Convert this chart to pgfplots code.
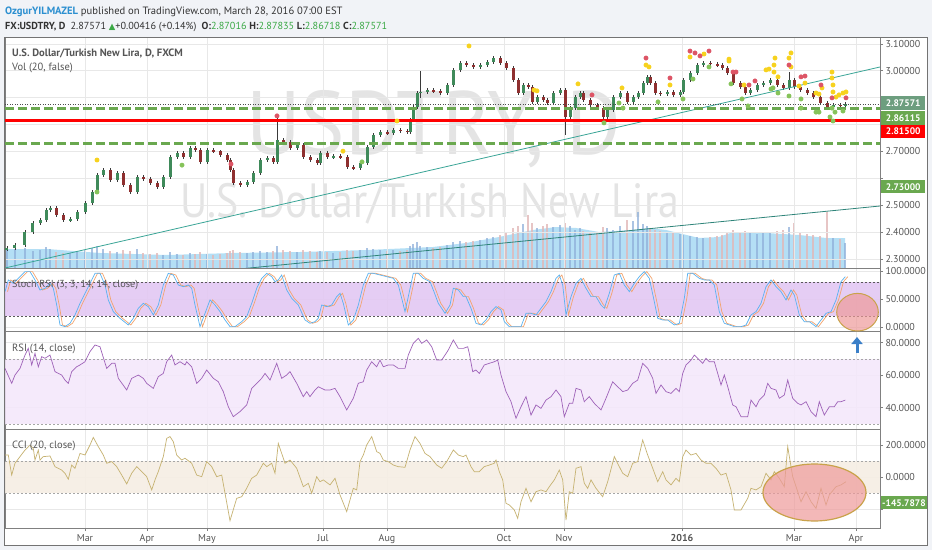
\documentclass[border=0pt]{standalone}
\usepackage{fontspec}
\setmainfont{PT Sans}
\newfontfamily\dejavu{DejaVu Sans}
\usepackage{pgfplots}
\pgfplotsset{compat=1.18}
\usepackage{pgfplotstable}
\usetikzlibrary{arrows.meta}

\definecolor{bgout}{HTML}{F1F3F7}
\definecolor{upc}{HTML}{3F8A5A}
\definecolor{dnc}{HTML}{8E2F2F}
\definecolor{wick}{HTML}{3A3A3A}
\definecolor{lvlgreen}{HTML}{6AA84F}
\definecolor{lvlred}{HTML}{FF0000}
\definecolor{curlbl}{HTML}{6D9E7F}
\definecolor{trend}{HTML}{3AA597}
\definecolor{volma}{HTML}{9CD5F2}
\definecolor{volup}{HTML}{8FB0DA}
\definecolor{voldn}{HTML}{E2B7B7}
\definecolor{dy}{HTML}{F7D21E}
\definecolor{dr}{HTML}{DD5566}
\definecolor{dg}{HTML}{86C35A}
\definecolor{stband}{HTML}{E3C8F3}
\definecolor{rsiband}{HTML}{F4E7FB}
\definecolor{cciband}{HTML}{F6EEE4}
\definecolor{kblue}{HTML}{5AB2F0}
\definecolor{dorange}{HTML}{F3A46E}
\definecolor{rsil}{HTML}{9E62B8}
\definecolor{ccil}{HTML}{C6B271}
\definecolor{lbl}{HTML}{555555}
\definecolor{gridc}{HTML}{E8E8E8}
\definecolor{wm}{HTML}{E4E4E4}
\definecolor{hdrblue}{HTML}{2B8FD0}
\definecolor{hdrtxt}{HTML}{333333}
\definecolor{hdrgreen}{HTML}{3AA845}
\definecolor{pinkfill}{HTML}{EE9A9A}
\definecolor{ellb}{HTML}{C9A24A}
\definecolor{arrblue}{HTML}{3A7FC8}

\pgfplotstableread{
x o c v
7 2.335 2.341 18
15 2.341 2.352 19
25 2.352 2.400 20
33 2.400 2.434 17
40 2.434 2.445 18
46 2.445 2.482 21
50 2.482 2.490 19
56 2.490 2.464 16
63 2.464 2.445 15
70 2.445 2.448 15
77 2.448 2.475 16
85 2.475 2.508 18
92 2.508 2.549 20
97 2.549 2.612 22
103 2.612 2.631 19
110 2.631 2.594 17
117 2.594 2.620 16
123 2.620 2.575 18
130 2.575 2.549 17
137 2.549 2.605 19
143 2.605 2.598 15
150 2.598 2.583 14
157 2.583 2.568 15
163 2.568 2.605 13
170 2.605 2.679 16
177 2.679 2.694 14
183 2.694 2.679 13
190 2.679 2.713 15
195 2.713 2.705 14
200 2.705 2.661 16
207 2.661 2.705 14
213 2.705 2.700 13
220 2.700 2.687 14
227 2.687 2.668 15
230 2.668 2.631 17
233 2.631 2.583 18
240 2.583 2.575 16
247 2.575 2.586 15
253 2.586 2.620 16
260 2.620 2.668 17
267 2.668 2.675 16
273 2.675 2.661 17
277 2.661 2.742 22
283 2.742 2.735 18
290 2.735 2.713 17
297 2.713 2.724 16
303 2.724 2.679 18
310 2.679 2.668 17
317 2.668 2.657 16
320 2.657 2.694 17
327 2.694 2.679 16
333 2.679 2.683 15
340 2.683 2.679 16
347 2.679 2.642 18
353 2.642 2.638 17
360 2.638 2.657 18
367 2.657 2.716 20
373 2.716 2.761 19
380 2.761 2.772 18
387 2.772 2.768 17
393 2.768 2.780 18
400 2.780 2.776 17
407 2.776 2.772 18
410 2.772 2.817 22
413 2.817 2.865 24
417 2.865 2.917 26
420 2.917 2.921 22
427 2.921 2.928 21
433 2.928 2.924 20
440 2.924 2.917 21
447 2.917 2.947 23
453 2.947 3.003 26
460 3.003 3.029 27
466 3.029 3.022 26
473 3.022 3.014 27
480 3.014 3.021 28
487 3.021 3.032 30
493 3.032 3.047 31
500 3.047 3.029 33
506 3.029 3.010 35
513 3.010 2.965 40
518 2.965 2.917 42
523 2.917 2.947 44
528 2.947 2.939 53
532 2.939 2.884 45
537 2.884 2.902 40
543 2.902 2.891 42
547 2.891 2.880 44
553 2.880 2.917 41
560 2.917 2.928 43
565 2.928 2.828 45
570 2.828 2.861 42
575 2.861 2.902 38
580 2.902 2.917 40
583 2.917 2.891 37
590 2.891 2.872 36
597 2.872 2.861 35
603 2.861 2.828 41
607 2.828 2.854 40
613 2.854 2.902 38
620 2.902 2.917 42
627 2.917 2.884 48
633 2.884 2.902 47
638 2.902 2.917 56
643 2.917 2.954 44
647 2.954 2.977 42
650 2.977 2.954 40
655 2.954 2.917 38
660 2.917 2.914 37
667 2.914 2.921 35
673 2.921 2.910 36
680 2.910 2.921 34
683 2.921 2.965 33
690 2.965 2.991 32
697 2.991 3.021 31
703 3.021 3.029 30
710 3.029 3.025 31
717 3.025 3.021 32
722 3.021 3.010 33
727 3.010 2.991 35
733 2.991 2.954 38
740 2.954 2.939 36
745 2.939 2.917 37
750 2.917 2.928 35
757 2.928 2.947 34
763 2.947 2.954 36
770 2.954 2.965 35
777 2.965 2.947 37
783 2.947 2.936 38
789 2.936 2.965 41
794 2.965 2.939 45
800 2.939 2.928 36
807 2.928 2.917 34
813 2.917 2.902 33
820 2.902 2.880 32
827 2.880 2.865 56
833 2.865 2.872 30
840 2.872 2.870 29
845 2.870 2.876 25
}\candles

\pgfplotstableread{
x lo hi
277 2.735 2.832
420 2.900 3.000
565 2.761 2.930
789 2.930 2.995
}\spikes

\pgfplotstableread{
x h
5 19
47 19
100 15
167 13
233 15
300 16
367 18
433 21
466 25
499 31
533 38
556 41
576 40
599 36
633 38
649 40
666 38
699 30
719 31
733 36
766 35
799 33
826 30
845 30
}\volma

\pgfplotstableread{
x y
97 2.668
343 2.701
397 2.813
469 3.092
704 3.062
690 3.051
729 3.043
775 3.047
791 3.066
789 3.047
646 3.021
649 3.014
534 2.928
537 2.925
578 2.951
622 2.936
670 2.947
729 3.036
744 2.947
766 3.003
769 3.006
774 3.021
774 2.995
778 2.977
791 3.014
799 2.943
805 2.954
816 2.917
819 2.913
832 2.995
832 2.973
833 2.947
833 2.921
836 2.902
839 2.910
843 2.917
846 2.921
822 2.936
}\dotsY

\pgfplotstableread{
x y
231 2.653
277 2.832
690 3.073
695 3.066
700 3.055
709 3.073
646 3.047
592 2.910
670 2.973
733 2.995
736 2.995
749 2.947
755 2.962
789 3.021
801 2.977
805 2.980
821 2.947
846 2.899
832 2.899
}\dotsR

\pgfplotstableread{
x y
97 2.549
182 2.649
362 2.661
658 2.884
683 2.895
693 2.969
709 3.014
731 2.951
742 2.895
748 2.869
771 2.932
773 2.936
778 2.917
789 2.906
801 2.895
801 2.861
816 2.846
819 2.846
604 2.806
623 2.861
619 2.880
832 2.861
833 2.813
843 2.850
830 2.828
835 2.846
}\dotsG

\pgfplotstableread{
x v
5 63.6
8.3 84.5
13.3 78.5
20 90.4
25 99.4
30 99.4
35 84.5
40 66.6
45 69.6
50 78.5
53.3 69.6
56.7 39.7
60 4.0
65 1.0
70 7.0
75 21.9
80 42.7
85 60.6
90 78.5
95 96.4
100 96.4
105 75.5
108.3 48.7
113.3 27.8
120 15.9
128.3 4.0
133.3 15.9
138.3 33.8
143.3 42.7
148.3 36.8
153.3 21.9
158.3 39.7
163.3 75.5
168.3 96.4
173.3 93.4
178.3 75.5
183.3 72.5
188.3 75.5
191.7 69.6
195 39.7
200 1.0
205 24.8
210 48.7
215 39.7
220 27.8
225 12.9
230 1.0
235 1.0
241.7 9.9
246.7 18.9
251.7 42.7
256.7 69.6
261.7 87.4
266.7 96.4
271.7 90.4
275 81.5
278.3 84.5
281.7 93.4
286.7 66.6
291.7 51.7
298.3 39.7
305 12.9
310 7.0
315 9.9
318.3 15.9
321.7 39.7
326.7 36.8
331.7 39.7
336.7 54.7
340 60.6
343.3 42.7
348.3 4.0
353.3 12.9
358.3 39.7
363.3 75.5
368.3 96.4
373.3 96.4
380 93.4
386.7 90.4
393.3 87.4
398.3 75.5
401.7 51.7
405 27.8
408.3 54.7
413.3 96.4
418.3 96.4
423.3 87.4
430 81.5
433.3 66.6
438.3 42.7
445 24.8
450 39.7
453.3 69.6
458.3 66.6
463.3 54.7
466 54.7
471 33.8
476 7.0
481 4.0
486 12.9
491 27.8
496 36.8
501 30.8
504.3 9.9
509.3 1.0
516 1.0
521 1.0
526 24.8
531 24.8
536 21.9
541 33.8
546 45.7
551 63.6
556 87.4
559.3 93.4
562.7 75.5
566 21.9
571 54.7
576 78.5
581 87.4
586 69.6
591 54.7
596 54.7
601 39.7
604.3 33.8
609.3 60.6
614.3 93.4
619.3 96.4
624.3 75.5
629.3 63.6
634.3 78.5
639.3 90.4
644.3 99.4
649.3 87.4
654.3 45.7
657.7 15.9
662.7 12.9
667.7 12.9
674.3 4.0
679.3 7.0
684.3 51.7
687.7 96.4
692.7 96.4
699.3 87.4
704.3 84.5
709.3 84.5
714.3 75.5
719.3 27.8
724.3 7.0
729.3 4.0
734.3 1.0
741 1.0
746 4.0
751 21.9
756 27.8
761 42.7
766 72.5
771 84.5
776 72.5
781 63.6
786 48.7
791 66.6
794.3 57.6
799.3 21.9
804.3 9.9
809.3 9.9
816 1.0
821 12.9
826 24.8
831 27.8
836 48.7
841 81.5
845.3 90.4
}\stoch

\pgfplotstableread{
x v
5 64.2
11.7 55.0
15 60.1
20 64.2
25 72.4
28.3 76.5
31.7 66.3
35 73.4
38.3 65.2
41.7 71.4
45 70.4
50 72.4
55 62.2
61.7 60.1
65 57.0
68.3 55.0
71.7 62.2
76.7 65.2
80 66.3
85 68.3
90 74.5
95 78.6
100 77.5
106.7 64.2
111.7 67.3
115 67.3
118.3 58.1
126.7 50.9
131.7 58.1
138.3 60.1
143.3 58.1
146.7 55.0
153.3 51.9
158.3 59.1
163.3 61.1
166.7 68.3
171.7 72.4
175 66.3
180 68.3
185 66.3
186.7 68.3
191.7 65.2
196.7 55.0
201.7 58.1
206.7 63.2
213.3 58.1
218.3 56.0
223.3 49.9
228.3 40.6
233.3 34.5
240 37.6
246.7 41.7
251.7 51.9
256.7 55.0
261.7 58.1
265 61.1
270 57.0
276.7 67.3
281.7 58.1
286.7 60.1
290 62.2
296.7 55.0
303.3 46.8
306.7 49.9
310 46.8
315 50.9
318.3 52.9
321.7 51.9
325 50.9
330 50.9
335 51.9
340 46.8
346.7 38.6
353.3 45.8
358.3 55.0
363.3 56.0
366.7 63.2
371.7 68.3
376.7 65.2
380 69.3
383.3 65.2
388.3 66.3
393.3 66.3
398.3 64.2
405 64.2
408.3 72.4
413.3 79.6
418.3 82.7
421.7 79.6
426.7 81.7
431.7 77.5
436.7 69.3
441.7 69.3
448.3 75.5
453.3 81.7
458.3 76.5
463.3 76.5
467.7 77.5
469.3 73.4
472.7 62.2
476 63.2
479.3 61.1
484.3 66.3
489.3 67.3
494.3 68.3
497.7 69.3
501 60.1
506 49.9
511 43.7
516 33.5
521 40.6
526 46.8
531 35.5
536 41.7
541 39.6
546 44.7
551 46.8
556 50.9
561 46.8
564.3 34.5
569.3 42.7
572.7 42.7
576 51.9
581 50.9
584.3 43.7
589.3 46.8
594.3 42.7
601 38.6
606 45.8
612.7 56.0
617.7 52.9
622.7 49.9
627.7 50.9
632.7 55.0
637.7 57.0
642.7 67.3
647.7 64.2
652.7 58.1
656 48.8
661 54.0
666 49.9
671 48.8
676 51.9
679.3 49.9
682.7 61.1
686 66.3
691 69.3
694.3 72.4
697.7 70.4
702.7 67.3
706 70.4
709.3 68.3
714.3 68.3
717.7 61.1
721 54.0
724.3 60.1
727.7 53.0
732.7 41.7
736 40.6
741 34.5
747.7 34.5
751 44.7
756 40.6
759.3 44.7
764.3 47.8
767.7 55.0
771 51.9
776 50.9
779.3 45.8
784.3 47.8
787.7 57.0
792.7 45.8
797.7 42.7
801 41.7
806 43.7
811 37.6
816 34.5
819.3 43.7
824.3 35.5
829.3 40.6
834.3 40.6
837.7 43.7
841 43.7
845.3 44.7
}\rsi

\pgfplotstableread{
x v
5 138
8.3 138
11.7 14
15 87
20 128
25 169
30 200
33.3 179
35 107
38.3 169
40 107
43.3 128
50 132
55 66
61.7 45
65 25
68.3 -12
71.7 76
75 56
80 148
85 138
90 200
93.3 247
98.3 190
103.3 138
106.7 87
111.7 97
116.7 66
121.7 14
126.7 -41
131.7 25
136.7 66
141.7 35
146.7 4
151.7 -78
155 -16
158.3 35
163.3 128
166.7 241
170 252
173.3 221
176.7 138
181.7 107
185 118
191.7 87
196.7 14
201.7 4
206.7 97
211.7 66
216.7 4
221.7 14
230 -268
236.7 -130
241.7 -120
246.7 -68
251.7 -6
256.7 14
263.3 87
266.7 66
271.7 87
275 25
278.3 210
285 87
290 107
296.7 56
303.3 -58
308.3 -37
311.7 -99
316.7 4
320 -27
323.3 -16
330 -47
335 -6
340 -109
346.7 -212
353.3 -68
356.7 -78
360 97
363.3 138
366.7 200
371.7 252
376.7 159
380 148
383.3 107
388.3 97
393.3 76
398.3 66
405 62
410 169
415 252
420 210
425 148
430 128
436.7 76
441.7 56
446.7 97
453.3 169
458.3 138
463.3 128
466 138
471 66
474.3 35
479.3 35
484.3 66
489.3 76
494.3 87
496 107
499.3 35
502.7 -16
506 -161
509.3 -171
514.3 -202
517.7 -254
521 -151
526 -68
531 -151
536 -89
541 -78
546 -89
549.3 -58
554.3 -16
559.3 45
562.7 -16
566 -264
569.3 -89
572.7 -99
576 56
581 66
584.3 -37
587.7 -68
591 -16
596 -68
602.7 -120
607.7 -27
614.3 128
619.3 66
622.7 25
627.7 4
632.7 87
637.7 97
642.7 231
647.7 138
652.7 56
657.7 -27
662.7 35
666 -16
671 -47
676 -6
679.3 -27
682.7 128
686 169
691 138
696 148
701 107
706 87
711 87
716 56
721 14
726 25
731 -78
734.3 -202
741 -202
747.7 -130
751 -68
756 -78
761 -58
766 25
771 -16
774.3 35
779.3 -6
784.3 -58
787.7 190
792.7 4
797.7 -89
801 -151
806 -89
811 -151
816 -192
821 -68
826 -171
829.3 -109
836 -58
841 -47
846 -27
}\cci

\pgfplotsset{
  pane/.style={
    scale only axis, width=875pt, xmin=5, xmax=880, anchor=south west,
    axis line style={draw=black!50, line width=0.9pt},
    xtick={85,147,207,323,387,504,564,682,794,856}, xticklabels={},
    grid=major, major grid style={draw=gridc, line width=0.6pt},
    ytick pos=right, yticklabel pos=right, tick align=outside,
    major tick length=3pt, tick style={draw=black!50, line width=0.5pt},
    xtick style={draw=none},
    yticklabel style={font=\fontsize{10}{11}\selectfont, text=lbl, xshift=-1pt},
    /pgf/number format/assume math mode=true,
  },
  cand/.style={draw=none, mark=none},
}

\begin{document}
\begin{tikzpicture}
\fill[bgout] (0pt,0pt) rectangle (932pt,550pt);
\useasboundingbox (0pt,0pt) rectangle (932pt,550pt);
\fill[white] (4.5pt,5pt) rectangle (927.5pt,513pt);

% watermark
\node[anchor=base west, inner sep=0pt, text=wm] at (246pt,395pt) {\scalebox{0.93}[1]{\fontsize{90}{90}\selectfont USDTRY, D}};
\node[anchor=base west, inner sep=0pt, text=wm] at (180pt,333pt) {\scalebox{0.87}[1]{\fontsize{48}{48}\selectfont U.S. Dollar/Turkish New Lira}};

% volume (hidden axis)
\begin{axis}[scale only axis, width=875pt, height=231pt, at={(5pt,282pt)}, anchor=south west,
  xmin=5, xmax=880, ymin=0, ymax=231, hide axis]
\addplot[draw=none, fill=volma, fill opacity=0.75] table[x=x, y=h] {\volma} \closedcycle;
\addplot[cand, error bars/.cd, y dir=both, y explicit, error mark=none,
  error bar style={line width=2.2pt, draw=volup, opacity=0.75}]
  table[x=x, y expr={\thisrow{v}/2}, y error expr={\thisrow{c}>\thisrow{o} ? \thisrow{v}/2 : 0}] {\candles};
\addplot[cand, error bars/.cd, y dir=both, y explicit, error mark=none,
  error bar style={line width=2.2pt, draw=voldn, opacity=0.8}]
  table[x=x, y expr={\thisrow{v}/2}, y error expr={\thisrow{c}<\thisrow{o} ? \thisrow{v}/2 : 0}] {\candles};
\end{axis}

% price pane
\begin{axis}[pane, height=231pt, at={(5pt,282pt)}, ymin=2.2665, ymax=3.1253,
  ytick={2.3,2.4,2.5,2.6,2.7,2.8,2.9,3.0,3.1},
  yticklabels={2.30000,2.40000,2.50000,,2.70000,,,3.00000,3.10000}]
% wicks
\addplot[cand, error bars/.cd, y dir=both, y explicit, error mark=none,
  error bar style={line width=0.7pt, draw=wick}]
  table[x=x, y expr={(\thisrow{o}+\thisrow{c})/2}, y error expr={abs(\thisrow{c}-\thisrow{o})/2+0.007}] {\candles};
\addplot[cand, error bars/.cd, y dir=both, y explicit, error mark=none,
  error bar style={line width=0.7pt, draw=wick}]
  table[x=x, y expr={(\thisrow{lo}+\thisrow{hi})/2}, y error expr={(\thisrow{hi}-\thisrow{lo})/2}] {\spikes};
% bodies
\addplot[cand, error bars/.cd, y dir=both, y explicit, error mark=none,
  error bar style={line width=3pt, draw=upc}]
  table[x=x, y expr={(\thisrow{o}+\thisrow{c})/2}, y error expr={\thisrow{c}>\thisrow{o} ? max(abs(\thisrow{c}-\thisrow{o})/2,0.0015) : 0}] {\candles};
\addplot[cand, error bars/.cd, y dir=both, y explicit, error mark=none,
  error bar style={line width=3pt, draw=dnc}]
  table[x=x, y expr={(\thisrow{o}+\thisrow{c})/2}, y error expr={\thisrow{c}<\thisrow{o} ? max(abs(\thisrow{c}-\thisrow{o})/2,0.0015) : 0}] {\candles};
% trend lines
\addplot[trend, line width=0.8pt] coordinates {(5,2.2665) (880,3.0138)};
\addplot[trend!80!black, line width=0.8pt] coordinates {(5,2.177) (880,2.497)};
% levels
\addplot[lvlgreen, line width=3pt, dash pattern=on 9pt off 4pt] coordinates {(5,2.86115) (880,2.86115)};
\addplot[lvlgreen, line width=3pt, dash pattern=on 9pt off 4pt] coordinates {(5,2.73) (880,2.73)};
\addplot[lvlred, line width=3.3pt] coordinates {(5,2.815) (880,2.815)};
\addplot[black!70, line width=0.5pt, dash pattern=on 1pt off 1.5pt] coordinates {(5,2.87571) (880,2.87571)};
% dots
\addplot[only marks, mark=*, mark size=2.2pt, color=dy] table[x=x,y=y] {\dotsY};
\addplot[only marks, mark=*, mark size=2.2pt, color=dr] table[x=x,y=y] {\dotsR};
\addplot[only marks, mark=*, mark size=2.2pt, color=dg] table[x=x,y=y] {\dotsG};
\end{axis}

% Stoch RSI pane
\begin{axis}[pane, height=63pt, at={(5pt,219pt)}, ymin=-6.8, ymax=105.9,
  ytick={0,50,100},
  yticklabel style={/pgf/number format/.cd, fixed, fixed zerofill, precision=4}]
\addplot[draw=none, fill=stband, fill opacity=0.9] coordinates {(5,20) (880,20) (880,80) (5,80)} -- cycle;
\addplot[black!65, line width=0.6pt, dash pattern=on 2pt off 2pt] coordinates {(5,80) (880,80)};
\addplot[black!65, line width=0.6pt, dash pattern=on 2pt off 2pt] coordinates {(5,20) (880,20)};
\addplot[dorange, line width=0.7pt] table[x expr={\thisrow{x}+2.5}, y=v] {\stoch};
\addplot[kblue, line width=0.7pt] table[x=x, y=v] {\stoch};
\end{axis}

% RSI pane
\begin{axis}[pane, height=98pt, at={(5pt,121pt)}, ymin=26.9, ymax=87.2,
  ytick={40,60,80},
  yticklabel style={/pgf/number format/.cd, fixed, fixed zerofill, precision=4}]
\addplot[draw=none, fill=rsiband, fill opacity=0.85] coordinates {(5,30) (880,30) (880,70) (5,70)} -- cycle;
\addplot[black!35, line width=0.6pt, dash pattern=on 2pt off 2pt] coordinates {(5,70) (880,70)};
\addplot[black!35, line width=0.6pt, dash pattern=on 2pt off 2pt] coordinates {(5,30) (880,30)};
\addplot[rsil, line width=0.7pt] table[x=x, y=v] {\rsi};
\end{axis}

% CCI pane
\begin{axis}[pane, height=99pt, at={(5pt,22pt)}, ymin=-313.6, ymax=299,
  ytick={-200,0,200},
  yticklabels={,0.0000,200.0000},
  xtick pos=lower, xtick style={draw=black!50, line width=0.5pt},
  xticklabels={Mar,Apr,May,Jul,Aug,Oct,Nov,\textbf{2016},Mar,Apr},
  xticklabel style={font=\fontsize{10}{11}\selectfont, text=lbl}]
\addplot[draw=none, fill=cciband, fill opacity=0.9] coordinates {(5,-100) (880,-100) (880,100) (5,100)} -- cycle;
\addplot[black!35, line width=0.6pt, dash pattern=on 2pt off 2pt] coordinates {(5,100) (880,100)};
\addplot[black!35, line width=0.6pt, dash pattern=on 2pt off 2pt] coordinates {(5,-100) (880,-100)};
\addplot[ccil, line width=0.7pt] table[x=x, y=v] {\cci};
\end{axis}

% annotations
\draw[fill=pinkfill, fill opacity=0.7, draw=ellb, line width=1pt] (857.5pt,237.8pt) ellipse [x radius=20.8pt, y radius=18.8pt];
\draw[fill=pinkfill, fill opacity=0.7, draw=ellb, line width=1.2pt] (814.5pt,57.5pt) ellipse [x radius=51.5pt, y radius=28.5pt];
\draw[-{Triangle[width=11pt,length=7pt]}, line width=3pt, draw=arrblue] (857pt,197pt) -- (857pt,213pt);

% value labels
\tikzset{vlab/.style={anchor=west, inner sep=1pt, minimum width=44pt, minimum height=13.5pt, text=white, font=\bfseries\fontsize{9.5}{10}\selectfont}}
\node[vlab, fill=curlbl] at (881pt,447pt) {2.87571};
\node[vlab, fill=lvlgreen] at (881pt,432pt) {2.86115};
\node[vlab, fill=lvlred] at (881pt,418.5pt) {2.81500};
\node[vlab, fill=lvlgreen] at (881pt,363.3pt) {2.73000};
\node[vlab, fill=lvlgreen] at (881pt,47.3pt) {-145.7878};

% pane titles
\node[anchor=base west, inner sep=0pt, text=lbl, font=\bfseries\fontsize{10.6}{12}\selectfont] at (12pt,493pt) {U.S. Dollar/Turkish New Lira, D, FXCM};
\node[anchor=base west, inner sep=0pt, text=lbl, font=\fontsize{10.5}{12}\selectfont] at (12pt,479pt) {Vol (20, false)};
\node[anchor=base west, inner sep=0pt, text=lbl, font=\fontsize{10.2}{12}\selectfont] at (12pt,263pt) {Stoch RSI (3, 3, 14, 14, close)};
\node[anchor=base west, inner sep=0pt, text=lbl, font=\fontsize{10.5}{12}\selectfont] at (12pt,199pt) {RSI (14, close)};
\node[anchor=base west, inner sep=0pt, text=lbl, font=\fontsize{10.5}{12}\selectfont] at (12pt,102pt) {CCI (20, close)};

% header
\node[anchor=base west, inner sep=0pt, font=\fontsize{10.6}{13}\selectfont] at (5pt,535pt) {\textcolor{hdrblue}{\bfseries OzgurYILMAZEL} \textcolor{hdrtxt}{published on TradingView.com, March 28, 2016 07:00 EST}};
\node[anchor=base west, inner sep=0pt, font=\fontsize{10.2}{12}\selectfont, text=hdrtxt] at (5pt,520.5pt) {\textbf{FX:USDTRY, D}\enspace 2.87571 {\dejavu\fontsize{8.5}{10}\selectfont\color{hdrgreen}▲}+0.00416 (+0.14\%)\enspace\textbf{O:}\textcolor{hdrgreen}{2.87016} \textbf{H:}\textcolor{hdrgreen}{2.87835} \textbf{L:}\textcolor{hdrgreen}{2.86718} \textbf{C:}\textcolor{hdrgreen}{2.87571}};

% outer frame
\draw[black!55, line width=0.8pt] (4.5pt,5pt) rectangle (927.5pt,513pt);
\end{tikzpicture}
\end{document}
